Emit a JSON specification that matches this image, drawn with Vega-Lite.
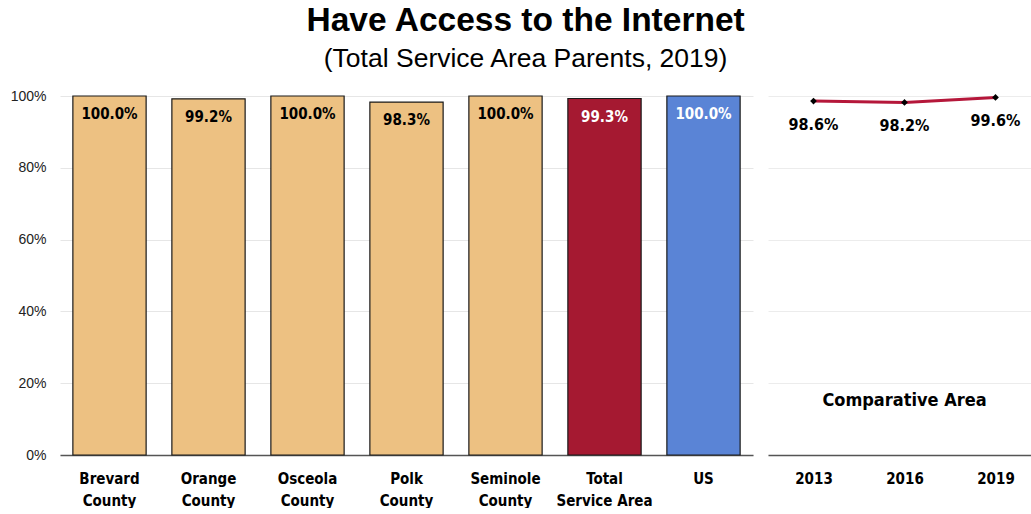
{
  "$schema": "https://vega.github.io/schema/vega-lite/v6.json",
  "padding": {"left": 10, "top": 4, "right": 0, "bottom": 0},
  "background": "white",
  "title": {
    "text": "Have Access to the Internet",
    "subtitle": "(Total Service Area Parents, 2019)",
    "anchor": "middle",
    "font": "Liberation Sans",
    "fontSize": 33.5,
    "fontWeight": "bold",
    "color": "black",
    "subtitleFont": "Liberation Sans",
    "subtitleFontSize": 26.5,
    "subtitleColor": "black",
    "subtitlePadding": 7,
    "offset": 16
  },
  "config": {
    "view": {"stroke": null}
  },
  "spacing": 15,
  "hconcat": [
    {
      "width": 693,
      "height": 359,
      "data": {"values": [
        {"area": "Brevard County", "value": 1.0},
        {"area": "Orange County", "value": 0.992},
        {"area": "Osceola County", "value": 1.0},
        {"area": "Polk County", "value": 0.983},
        {"area": "Seminole County", "value": 1.0},
        {"area": "Total Service Area", "value": 0.993},
        {"area": "US", "value": 1.0}
      ]},
      "encoding": {
        "x": {
          "field": "area", "type": "nominal", "sort": null, "title": null,
          "scale": {"paddingInner": 0.26, "paddingOuter": 0.13},
          "axis": {
            "labelAngle": 0, "ticks": false, "domainColor": "#555555", "domainWidth": 1.5,
            "labelFont": "DejaVu Sans Condensed, Liberation Sans Narrow, Liberation Sans",
            "labelFontSize": 15, "labelFontWeight": "bold", "labelColor": "black",
            "labelPadding": 16, "labelLineHeight": 22,
            "labelExpr": "datum.value == 'Total Service Area' ? ['Total', 'Service Area'] : split(datum.value, ' ')"
          }
        },
        "y": {
          "field": "value", "type": "quantitative", "title": null,
          "scale": {"domain": [0, 1]},
          "axis": {
            "format": ".0%", "values": [0, 0.2, 0.4, 0.6, 0.8, 1.0], "labelOverlap": false,
            "domain": false, "ticks": false, "gridColor": "#e6e6e6", "gridWidth": 1,
            "labelFont": "Liberation Sans", "labelFontSize": 14, "labelColor": "#222222", "labelPadding": 14
          }
        }
      },
      "layer": [
        {
          "mark": {"type": "bar", "stroke": "#1a1a1a", "strokeWidth": 1.2},
          "encoding": {
            "color": {
              "field": "area", "type": "nominal", "legend": null,
              "scale": {
                "domain": ["Brevard County", "Orange County", "Osceola County", "Polk County", "Seminole County", "Total Service Area", "US"],
                "range": ["#EDC182", "#EDC182", "#EDC182", "#EDC182", "#EDC182", "#A51931", "#5A84D6"]
              }
            }
          }
        },
        {
          "mark": {"type": "text", "baseline": "middle", "dy": 18, "font": "DejaVu Sans Condensed, Liberation Sans Narrow, Liberation Sans", "fontSize": 15, "fontWeight": "bold"},
          "encoding": {
            "text": {"field": "value", "type": "quantitative", "format": ".1%"},
            "color": {
              "condition": {"test": "datum.area == 'Total Service Area' || datum.area == 'US'", "value": "white"},
              "value": "black"
            }
          }
        }
      ]
    },
    {
      "width": 273,
      "height": 359,
      "data": {"values": [
        {"year": "2013", "value": 0.986},
        {"year": "2016", "value": 0.982},
        {"year": "2019", "value": 0.996}
      ]},
      "encoding": {
        "x": {
          "field": "year", "type": "ordinal", "title": null,
          "scale": {"type": "point", "padding": 0.5},
          "axis": {
            "labelAngle": 0, "ticks": false, "domainColor": "#555555", "domainWidth": 1.5,
            "labelFont": "DejaVu Sans Condensed, Liberation Sans Narrow, Liberation Sans",
            "labelFontSize": 15, "labelFontWeight": "bold", "labelColor": "black", "labelPadding": 16
          }
        },
        "y": {
          "field": "value", "type": "quantitative", "title": null,
          "scale": {"domain": [0, 1]},
          "axis": {"values": [0, 0.2, 0.4, 0.6, 0.8, 1.0], "labels": false, "domain": false, "ticks": false, "gridColor": "#ececec", "gridWidth": 1}
        }
      },
      "layer": [
        {"mark": {"type": "line", "color": "#B5173A", "strokeWidth": 3}},
        {"mark": {"type": "point", "shape": "diamond", "filled": true, "color": "black", "size": 45, "opacity": 1}},
        {
          "mark": {"type": "text", "baseline": "middle", "dy": 24, "font": "DejaVu Sans Condensed, Liberation Sans Narrow, Liberation Sans", "fontSize": 16, "fontWeight": "bold", "color": "black"},
          "encoding": {"text": {"field": "value", "type": "quantitative", "format": ".1%"}}
        },
        {
          "data": {"values": [{"label": "Comparative Area", "year": "2016"}]},
          "mark": {"type": "text", "baseline": "middle", "font": "DejaVu Sans Condensed, Liberation Sans Narrow, Liberation Sans", "fontSize": 18, "fontWeight": "bold", "color": "black"},
          "encoding": {"text": {"field": "label"}, "x": {"field": "year", "type": "ordinal"}, "y": {"value": 305}}
        }
      ]
    }
  ]
}
